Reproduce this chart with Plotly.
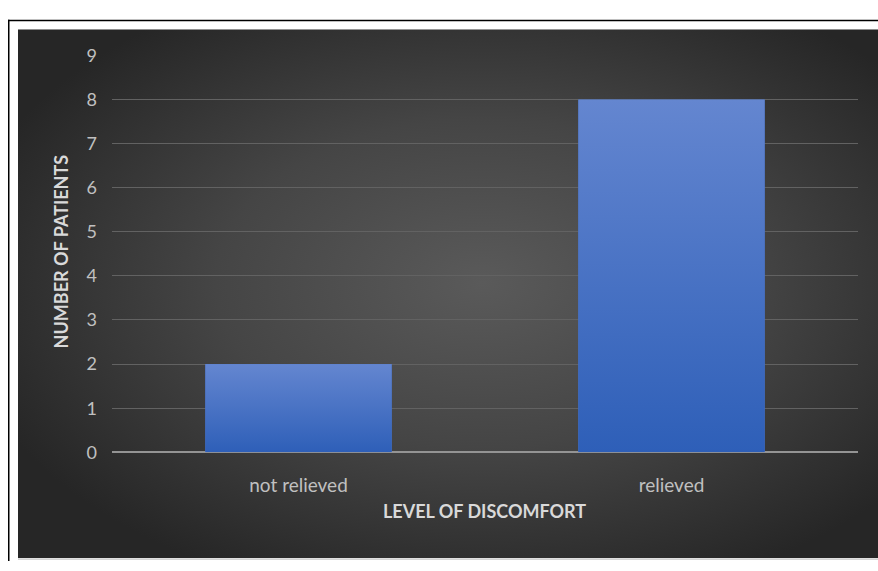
import base64
import plotly.graph_objects as go

# ---- data ----
categories = ["not relieved", "relieved"]
patients = [2, 8]
y_ticks = list(range(0, 10))
x_title = "LEVEL OF DISCOMFORT"
y_title = "NUMBER OF PATIENTS"

W, H = 878, 571
BAR_W = 0.5

def px(x):
    return x / W

def py(y):
    return 1 - y / H

def svg_uri(svg):
    return "data:image/svg+xml;base64," + base64.b64encode(svg.encode()).decode()

# radial-gradient background for the dark chart area (decoration)
bg_src = svg_uri('''<svg xmlns="http://www.w3.org/2000/svg" width="860" height="550" viewBox="0 0 860 550" preserveAspectRatio="none">
<defs><radialGradient id="g" cx="0.54" cy="0.48" r="0.62" gradientUnits="objectBoundingBox">
<stop offset="0" stop-color="#5a5a5a"/><stop offset="0.5" stop-color="#454545"/><stop offset="1" stop-color="#262626"/>
</radialGradient></defs>
<rect width="860" height="550" fill="url(#g)"/></svg>''')

# vertical gradient used as the fill of each bar
bar_src = svg_uri('''<svg xmlns="http://www.w3.org/2000/svg" width="100" height="100" viewBox="0 0 100 100" preserveAspectRatio="none">
<defs><linearGradient id="b" x1="0" y1="0" x2="0" y2="1">
<stop offset="0" stop-color="#6486d0"/><stop offset="1" stop-color="#2e5fb8"/>
</linearGradient></defs>
<rect width="100" height="100" fill="url(#b)"/></svg>''')

positions = list(range(len(categories)))

fig = go.Figure()
fig.add_trace(go.Bar(
    x=positions, y=patients,
    marker=dict(color="#4873c8", line=dict(width=0)),
    width=BAR_W,
    customdata=categories,
    hovertemplate="%{customdata}: %{y}<extra></extra>",
))

font = "Lato, 'Open Sans', sans-serif"

images = [dict(
    source=bg_src, xref="paper", yref="paper",
    x=px(18), y=py(18), sizex=px(W - 18), sizey=(568 - 18) / H,
    xanchor="left", yanchor="top", sizing="stretch", layer="below",
)]
for pos, val in zip(positions, patients):
    images.append(dict(
        source=bar_src, xref="x", yref="y",
        x=pos - BAR_W / 2, y=val, sizex=BAR_W, sizey=val,
        xanchor="left", yanchor="top", sizing="stretch", layer="above",
    ))

fig.update_layout(
    width=W, height=H,
    margin=dict(l=0, r=0, t=0, b=0),
    paper_bgcolor="white",
    plot_bgcolor="rgba(0,0,0,0)",
    showlegend=False,
    xaxis=dict(
        domain=[px(112), px(858)],
        range=[-0.5, len(categories) - 0.5],
        tickvals=positions, ticktext=categories,
        showgrid=False, zeroline=False,
        showline=False,
        ticks="", ticklabelstandoff=20,
        tickfont=dict(family=font, size=19, color="#c0c0c0"),
    ),
    yaxis=dict(
        domain=[py(458), py(45)],
        range=[0, 9], tickvals=y_ticks,
        showgrid=True, gridcolor="#626262", gridwidth=1,
        zeroline=True, zerolinecolor="#949494", zerolinewidth=1.5,
        showline=False, ticks="", ticklabelstandoff=14,
        tickfont=dict(family=font, size=18, color="#c0c0c0"),
    ),
    images=images,
    shapes=[
        dict(type="line", xref="paper", yref="paper", x0=px(8), x1=1, y0=py(8.75), y1=py(8.75),
             line=dict(color="black", width=1.5)),
        dict(type="line", xref="paper", yref="paper", x0=px(8.75), x1=px(8.75), y0=0, y1=py(8),
             line=dict(color="black", width=1.5)),
        dict(type="line", xref="paper", yref="paper", x0=px(18), x1=1, y0=py(569), y1=py(569),
             line=dict(color="#b5b5b5", width=1)),
    ],
    annotations=[
        dict(text=f"<b>{x_title}</b>", xref="paper", yref="paper", x=px(485), y=py(519),
             showarrow=False, font=dict(family=font, size=18, color="#d9d9d9"),
             xanchor="center", yanchor="middle"),
        dict(text=f"<b>{y_title}</b>", xref="paper", yref="paper", x=px(61), y=py(249),
             showarrow=False, textangle=-90, font=dict(family=font, size=18, color="#d9d9d9"),
             xanchor="center", yanchor="middle"),
    ],
)

fig.write_html("out.html")
